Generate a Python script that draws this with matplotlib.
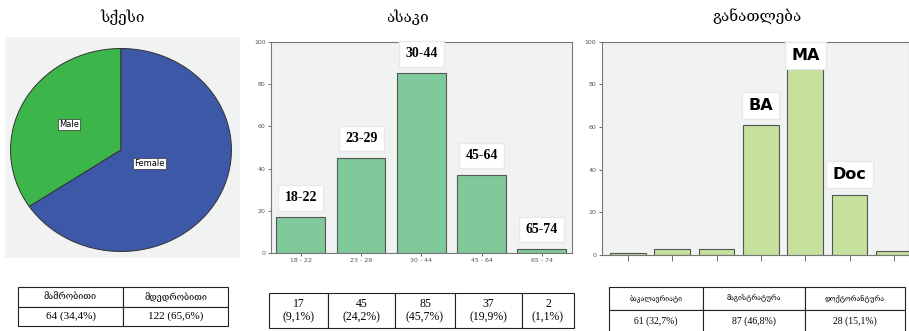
import numpy as np
import matplotlib.pyplot as plt
from matplotlib.patches import Rectangle

# Data
sex_labels = ["Male", "Female"]
sex_counts = [64, 122]
sex_table_head = ["მამრობითი", "მდედრობითი"]
sex_table_vals = ["64 (34,4%)", "122 (65,6%)"]

age_groups = ["18 - 22", "23 - 29", "30 - 44", "45 - 64", "65 - 74"]
age_tags = ["18-22", "23-29", "30-44", "45-64", "65-74"]
age_counts = [17, 45, 85, 37, 2]
age_table = ["17\n(9,1%)", "45\n(24,2%)", "85\n(45,7%)", "37\n(19,9%)", "2\n(1,1%)"]

edu_counts = [1, 3, 3, 61, 87, 28, 2]
edu_tags = {3: "BA", 4: "MA", 5: "Doc"}
edu_tag_offsets = {3: 14, 4: 10, 5: 15}
edu_table_head = ["ბაკალავრიატი", "მაგისტრატურა", "დოქტორანტურა"]
edu_table_vals = ["61 (32,7%)", "87 (46,8%)", "28 (15,1%)"]

titles = ["სქესი", "ასაკი", "განათლება"]

W, H = 909, 331
fig = plt.figure(figsize=(W / 100, H / 100), dpi=100)


def box(x0, y0, x1, y1):
    # pixel box (top-left origin) -> figure fraction rect
    return [x0 / W, 1 - y1 / H, (x1 - x0) / W, (y1 - y0) / H]


geo = ["DejaVu Serif", "DejaVu Sans"]
serif = ["Liberation Serif", "DejaVu Serif", "DejaVu Sans"]

# Titles
for x, t in zip([122, 407, 757], titles):
    fig.text(x / W, 1 - 17 / H, t, ha="center", va="center", fontsize=11, family=geo)

# Pie panel
fig.patches.append(Rectangle((5 / W, 1 - 258 / H), 235 / W, 221 / H,
                             transform=fig.transFigure, facecolor="#f1f2f2",
                             edgecolor="none", zorder=-5))
ax1 = fig.add_axes(box(10, 48, 232, 252))
ax1.set_zorder(2)
wedges, _ = ax1.pie(sex_counts, colors=["#3cb54a", "#3e58a8"], startangle=90,
                    counterclock=True,
                    wedgeprops=dict(edgecolor="#333333", linewidth=0.7))
ax1.set_xlim(-1.005, 1.005)
ax1.set_ylim(-1.005, 1.005)
ax1.set_aspect("auto")
ax1.axis("off")
for w, lab, r in zip(wedges, sex_labels, [0.53, 0.29]):
    ang = np.deg2rad((w.theta1 + w.theta2) / 2)
    ax1.text(r * np.cos(ang), r * np.sin(ang), lab, ha="center", va="center",
             fontsize=6, bbox=dict(facecolor="white", edgecolor="#333333",
                                   linewidth=0.5, pad=0.8))

# Age bars
ax2 = fig.add_axes(box(270.7, 41.7, 572, 253.3))
ax2.set_facecolor("#f1f2f2")
x = np.arange(len(age_counts))
ax2.bar(x, age_counts, width=0.81, color="#80c99b", edgecolor="#555555", linewidth=0.8)
for xi, v, t in zip(x, age_counts, age_tags):
    ax2.annotate(t, (xi, v), xytext=(0, 14), textcoords="offset points",
                 ha="center", va="center", fontsize=10, fontweight="bold",
                 family=serif,
                 bbox=dict(facecolor="white", edgecolor="#e8e8e8", pad=4.5))
ax2.set_xlim(-0.5, len(age_counts) - 0.5)
ax2.set_ylim(0, 100)
ax2.set_xticks(x)
ax2.set_xticklabels(age_groups)
ax2.set_yticks(range(0, 101, 20))
ax2.tick_params(labelsize=4.5, length=2, width=0.6, colors="#555555", pad=1.5)
for s in ax2.spines.values():
    s.set_color("#777777")
    s.set_linewidth(0.8)

# Education bars
ax3 = fig.add_axes(box(601.7, 41.7, 909, 255))
ax3.set_facecolor("#f1f2f2")
xe = np.arange(len(edu_counts))
ax3.bar(xe, edu_counts, width=0.8, color="#c6e09e", edgecolor="#555555", linewidth=0.8)
for i, t in edu_tags.items():
    ax3.annotate(t, (i, edu_counts[i]), xytext=(0, edu_tag_offsets[i]),
                 textcoords="offset points", annotation_clip=False,
                 ha="center", va="center", fontsize=11.5, fontweight="bold",
                 bbox=dict(facecolor="white", edgecolor="#e8e8e8", pad=4.5), zorder=5)
ax3.set_xlim(-0.59, 6.34)
ax3.set_ylim(0, 100)
ax3.set_xticks(xe)
ax3.set_xticklabels([])
ax3.set_yticks(range(0, 101, 20))
ax3.tick_params(labelsize=4.5, length=2.5, width=0.6, colors="#555555", pad=1.5)
ax3.tick_params(axis="x", length=4)
for s in ax3.spines.values():
    s.set_color("#777777")
    s.set_linewidth(0.8)


def draw_table(rect, rows, col_w, sizes):
    ax = fig.add_axes(rect)
    ax.axis("off")
    tb = ax.table(cellText=rows, colWidths=col_w, cellLoc="center", bbox=[0, 0, 1, 1])
    tb.auto_set_font_size(False)
    for (r, c), cell in tb.get_celld().items():
        cell.set_linewidth(0.8)
        cell.set_edgecolor("#222222")
        cell.get_text().set_fontsize(sizes[r])
        cell.get_text().set_fontfamily(serif)
    return tb


draw_table(box(18, 287, 228, 326), [sex_table_head, sex_table_vals],
           [105, 105], [6.5, 8])
draw_table(box(269, 293, 574, 328), [age_table],
           [59, 67, 60, 67, 52], [8.5])
draw_table(box(609, 287, 905, 333), [edu_table_head, edu_table_vals],
           [94, 102, 100], [5, 7])

plt.savefig("out.png", dpi=100)
